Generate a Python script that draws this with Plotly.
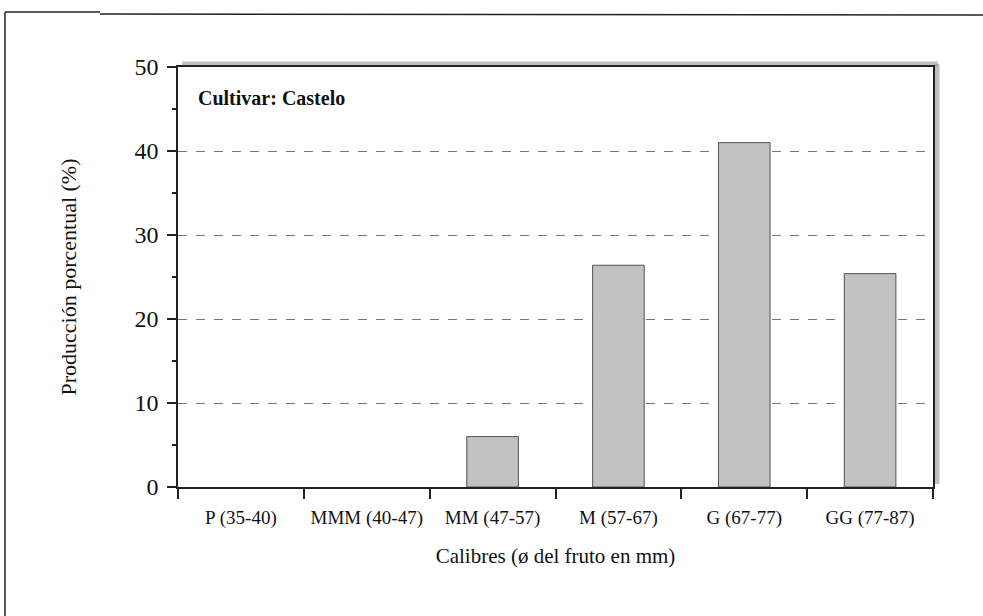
import plotly.graph_objects as go

categories = ["P (35-40)", "MMM (40-47)", "MM (47-57)", "M (57-67)", "G (67-77)", "GG (77-87)"]
values = [0.0, 0.0, 6.0, 26.4, 41.0, 25.4]
y_ticks = [0, 10, 20, 30, 40, 50]

W, H = 983, 616
L, R, T, B = 178, 50, 67, 129
pw, ph = W - L - R, H - T - B

def px(x):
    return (x - L) / pw

def py(y):
    return (H - B - y) / ph

serif = "Liberation Serif, Times New Roman, serif"

fig = go.Figure()
fig.add_trace(go.Bar(
    x=categories, y=values,
    marker=dict(color="#c2c2c2",
                line=dict(color="#505050", width=[1 if v > 0 else 0 for v in values])),
    width=0.41,
))

shapes = [
    # shadow on top and right of plot box
    dict(type="line", xref="paper", yref="paper", x0=px(182), x1=px(938), y0=py(64), y1=py(64),
         line=dict(color="rgba(150,150,150,0.6)", width=5), layer="below"),
    dict(type="line", xref="paper", yref="paper", x0=px(937), x1=px(937), y0=py(64), y1=py(484),
         line=dict(color="rgba(150,150,150,0.6)", width=5), layer="below"),
    # outer frame
    dict(type="line", xref="paper", yref="paper", x0=px(5), x1=px(100), y0=py(12), y1=py(12),
         line=dict(color="#222", width=1.5)),
    dict(type="line", xref="paper", yref="paper", x0=px(100), x1=px(983), y0=py(14), y1=py(15),
         line=dict(color="#222", width=1.5)),
    dict(type="line", xref="paper", yref="paper", x0=px(5), x1=px(5), y0=py(12), y1=py(616),
         line=dict(color="#222", width=1.5)),
]

fig.update_layout(
    width=W, height=H,
    margin=dict(l=L, r=R, t=T, b=B),
    paper_bgcolor="white", plot_bgcolor="white",
    showlegend=False,
    font=dict(family=serif, color="#111"),
    shapes=shapes,
    annotations=[dict(text="<b>Cultivar: Castelo</b>", xref="paper", yref="paper",
                      x=px(196), y=py(98), xanchor="left", yanchor="middle",
                      showarrow=False, font=dict(family=serif, size=20, color="#111"))],
)

fig.update_xaxes(
    showline=True, linecolor="#222", linewidth=1.5, mirror=True,
    ticks="outside", tickson="boundaries", ticklen=10, tickcolor="#222", tickwidth=1.5,
    ticklabelstandoff=12,
    tickfont=dict(family=serif, size=19, color="#111"),
    title=dict(text="Calibres (ø del fruto en mm)", font=dict(family=serif, size=21, color="#111"), standoff=21),
    showgrid=False,
)
fig.update_yaxes(
    range=[0, 50], tickvals=y_ticks,
    showline=True, linecolor="#222", linewidth=1.5, mirror=True,
    ticks="outside", ticklen=9, tickcolor="#222", tickwidth=1.5,
    ticklabelstandoff=4,
    tickfont=dict(family=serif, size=24, color="#111"),
    showgrid=True, gridcolor="#777", griddash="dash", gridwidth=1,
    zeroline=False,
    minor=dict(dtick=5, tick0=0, ticks="outside", ticklen=4, tickcolor="#222", showgrid=False),
    title=dict(text="Producción porcentual (%)", font=dict(family=serif, size=22, color="#111"), standoff=52),
)

fig.write_html("out.html", post_script="document.body.style.margin='0';",
               config={"displayModeBar": False})
